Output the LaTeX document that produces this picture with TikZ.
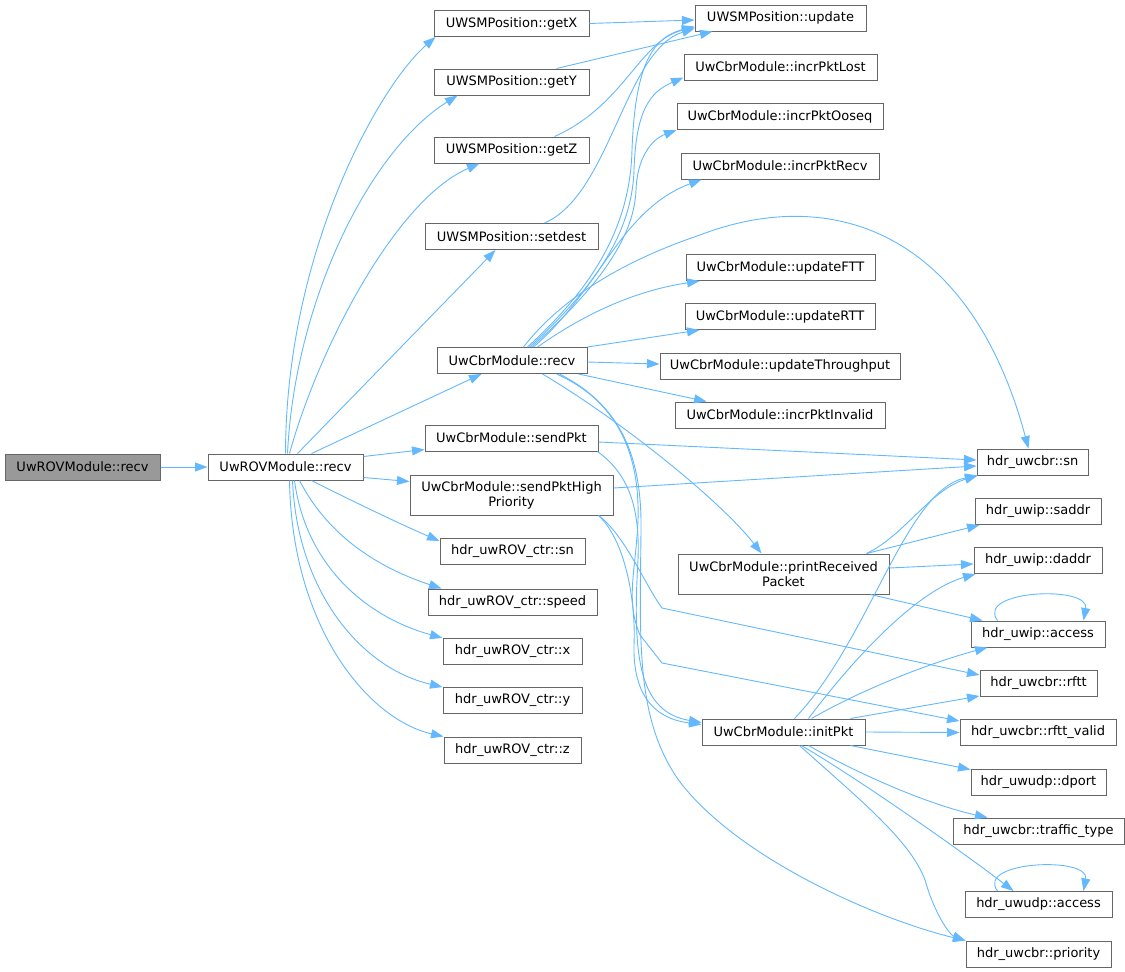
\documentclass[tikz,border=0pt]{standalone}
\usepackage{fontspec}
\setmainfont{DejaVu Sans}
\usepackage{tikz}
\usetikzlibrary{calc}
\usetikzlibrary{arrows.meta}

\definecolor{edgeblue}{HTML}{63B8FF}
\definecolor{boxgrey}{HTML}{666666}
\definecolor{rootgrey}{HTML}{999999}

\begin{document}
\begin{tikzpicture}[x=1pt, y=-1pt,
  fn/.style={draw=boxgrey, line width=1pt, fill=white, minimum height=26pt, inner xsep=2pt, inner ysep=0pt, font=\fontsize{13}{15}\selectfont},
  fntwo/.style={fn, minimum height=40pt, align=center},
  call/.style={edgeblue, line width=0.9pt, -{Triangle[length=12.5pt, width=9pt]}}]
\useasboundingbox (0,0) rectangle (1125,972);

% callers
\node[fn, fill=rootgrey, minimum width=155pt] (rootRecv) at (82.5,467) {UwROVModule::recv};
\node[fn, minimum width=155pt] (rovRecv) at (285.5,467) {UwROVModule::recv};

% first level
\node[fn, minimum width=155pt] (getX) at (511.5,23.5) {UWSMPosition::getX};
\node[fn, minimum width=155pt] (getY) at (511.5,82) {UWSMPosition::getY};
\node[fn, minimum width=155pt] (getZ) at (511.5,150) {UWSMPosition::getZ};
\node[fn, minimum width=173pt] (setDest) at (511.5,236.5) {UWSMPosition::setdest};
\node[fn, minimum width=150pt] (cbrRecv) at (512,360.5) {UwCbrModule::recv};
\node[fn, minimum width=173pt] (sendPkt) at (511.5,438) {UwCbrModule::sendPkt};
\node[fntwo, minimum width=203pt] (sendHigh) at (511.5,495) {UwCbrModule::sendPktHigh\\Priority};
\node[fn, minimum width=145pt] (rovSn) at (512.5,551.5) {hdr\_uwROV\_ctr::sn};
\node[fn, minimum width=169pt] (rovSpeed) at (512.5,602) {hdr\_uwROV\_ctr::speed};
\node[fn, minimum width=139pt] (rovX) at (512.5,651.5) {hdr\_uwROV\_ctr::x};
\node[fn, minimum width=139pt] (rovY) at (512.5,700.5) {hdr\_uwROV\_ctr::y};
\node[fn, minimum width=137pt] (rovZ) at (512.5,750) {hdr\_uwROV\_ctr::z};

% second level
\node[fn, minimum width=171pt] (update) at (780.5,18) {UWSMPosition::update};
\node[fn, minimum width=193pt] (incrLost) at (780.5,67) {UwCbrModule::incrPktLost};
\node[fn, minimum width=206pt] (incrOoseq) at (780,116.5) {UwCbrModule::incrPktOoseq};
\node[fn, minimum width=198pt] (incrRecv) at (780,166) {UwCbrModule::incrPktRecv};
\node[fn, minimum width=189pt] (updFTT) at (780.5,267.5) {UwCbrModule::updateFTT};
\node[fn, minimum width=190pt] (updRTT) at (780,316.5) {UwCbrModule::updateRTT};
\node[fn, minimum width=240pt] (updThr) at (780,366) {UwCbrModule::updateThroughput};
\node[fn, minimum width=210pt] (incrInv) at (780,415) {UwCbrModule::incrPktInvalid};
\node[fntwo, minimum width=211pt] (printRecv) at (783.5,574) {UwCbrModule::printReceived\\Packet};
\node[fn, minimum width=163pt] (initPkt) at (783.5,732) {UwCbrModule::initPkt};

% headers
\node[fn, minimum width=111pt] (cbrSn) at (1032.5,462) {hdr\_uwcbr::sn};
\node[fn, minimum width=126pt] (saddr) at (1038,511.5) {hdr\_uwip::saddr};
\node[fn, minimum width=128pt] (daddr) at (1038,560.5) {hdr\_uwip::daddr};
\node[fn, minimum width=134pt] (ipAccess) at (1038,634) {hdr\_uwip::access};
\node[fn, minimum width=117pt] (rftt) at (1038.5,683.5) {hdr\_uwcbr::rftt};
\node[fn, minimum width=156pt] (rfttValid) at (1038,732.5) {hdr\_uwcbr::rftt\_valid};
\node[fn, minimum width=135pt] (dport) at (1038.5,782) {hdr\_uwudp::dport};
\node[fn, minimum width=171pt] (traffic) at (1038.5,831) {hdr\_uwcbr::traffic\_type};
\node[fn, minimum width=147pt] (udpAccess) at (1038.5,904.5) {hdr\_uwudp::access};
\node[fn, minimum width=145pt] (priority) at (1038.5,954) {hdr\_uwcbr::priority};

% UwROVModule::recv
\draw[call] (rootRecv) -- (rovRecv);
\draw[call] ([xshift=78pt]rovRecv.north west) .. controls (286,250) and (380,85) .. ([xshift=2pt]getX.south west);
\draw[call] ([xshift=80pt]rovRecv.north west) .. controls (295,300) and (370,150) .. ([xshift=24pt]getY.south west);
\draw[call] ([xshift=82pt]rovRecv.north west) .. controls (318,350) and (395,200) .. ([xshift=46pt]getZ.south west);
\draw[call] ([xshift=90pt]rovRecv.north west) -- ([xshift=71pt]setDest.south west);
\draw[call] ([xshift=104pt]rovRecv.north west) -- ([xshift=45pt]cbrRecv.south west);
\draw[call] ([yshift=-3pt]rovRecv.north east) -- ([yshift=2pt]sendPkt.south west);
\draw[call] ([yshift=3pt]rovRecv.south east) -- ([yshift=-7pt]sendHigh.north west);
\draw[call] ([xshift=104pt]rovRecv.south west) .. controls (350,500) and (400,524) .. ([yshift=-3pt]rovSn.north west);
\draw[call] ([xshift=92pt]rovRecv.south west) .. controls (325,530) and (370,565) .. ([xshift=14pt]rovSpeed.north west);
\draw[call] ([xshift=87pt]rovRecv.south west) .. controls (305,560) and (360,615) .. (rovX.north west);
\draw[call] ([xshift=85pt]rovRecv.south west) .. controls (297,590) and (360,668) .. (rovY.north west);
\draw[call] ([xshift=82pt]rovRecv.south west) .. controls (292,630) and (370,720) .. (rovZ.north west);

% UWSMPosition
\draw[call] (getX.east) -- ([yshift=-2pt]update.west);
\draw[call] ([xshift=123pt]getY.north west) -- ([xshift=18pt]update.south west);
\draw[call] ([xshift=121pt]getZ.north west) .. controls (625,105) and (640,40) .. ([yshift=4pt]update.south west);
\draw[call] ([xshift=120pt]setDest.north west) .. controls (610,195) and (625,50) .. ([yshift=3pt]update.south west);

% UwCbrModule::recv
\draw[call] ([xshift=91pt]cbrRecv.north west) .. controls (590,290) and (630,230) .. (632,150) .. controls (635,70) and (650,38) .. ([yshift=5pt]update.south west);
\draw[call] ([xshift=93pt]cbrRecv.north west) .. controls (592,290) and (632,235) .. (634,170) .. controls (636,110) and (650,92) .. ([yshift=3pt]incrLost.south west);
\draw[call] ([xshift=95pt]cbrRecv.north west) .. controls (595,290) and (634,240) .. (636,190) .. controls (637,160) and (650,140) .. (incrOoseq.south west);
\draw[call] ([xshift=97pt]cbrRecv.north west) .. controls (600,290) and (620,210) .. ([xshift=21pt]incrRecv.south west);
\draw[call] ([xshift=87pt]cbrRecv.north west) .. controls (560,300) and (620,262) .. (700,235) .. controls (830,185) and (970,230) .. ([xshift=-4pt]cbrSn.north);
\draw[call] ([xshift=101pt]cbrRecv.north west) .. controls (590,310) and (640,290) .. ([xshift=14pt]updFTT.south west);
\draw[call] (cbrRecv.north east) -- ([xshift=15pt]updRTT.south west);
\draw[call] ([yshift=-1.5pt]cbrRecv.east) -- ([yshift=2pt]updThr.west);
\draw[call] ([xshift=-9pt]cbrRecv.south east) -- ([xshift=32pt]incrInv.north west);
\draw[call] ([xshift=106pt]cbrRecv.south west) .. controls (620,420) and (720,500) .. ([xshift=84pt]printRecv.north west);
\draw[call] ([xshift=120pt]cbrRecv.south west) .. controls (615,400) and (640,450) .. (638,520) .. controls (636,570) and (625,600) .. (640,635) -- (662,663) -- ([yshift=-2pt]rfttValid.north west);
\draw[call] ([xshift=123pt]cbrRecv.south west) .. controls (620,405) and (642,455) .. (641,530) .. controls (640,640) and (635,720) .. (680,782) .. controls (740,860) and (880,920) .. (priority.north west);

% sendPkt and sendPktHighPriority
\draw[call] ([yshift=-4pt]sendPkt.east) -- ([yshift=2pt]cbrSn.west);
\draw[call] ([xshift=-1pt]sendPkt.south east) .. controls (630,475) and (640,510) .. (638,560) .. controls (632,660) and (640,712) .. ([yshift=-4pt]initPkt.north west);
\draw[call] ([yshift=7pt]sendHigh.east) -- ([yshift=-4pt]cbrSn.west);
\draw[call] ([xshift=-15pt]sendHigh.south east) .. controls (625,535) and (645,585) .. (662,608) -- ([yshift=-5pt]rftt.north west);
\draw[call] ([xshift=-15pt]sendHigh.south east) .. controls (625,540) and (636,600) .. (634,645) .. controls (633,690) and (650,718) .. ([yshift=-6pt]initPkt.north west);

% printReceivedPacket
\draw[call] ([xshift=-23pt]printRecv.north east) .. controls (905,535) and (930,490) .. ([xshift=1pt]cbrSn.south west);
\draw[call] ([xshift=-23pt]printRecv.north east) -- ([xshift=5pt]saddr.south west);
\draw[call] ([yshift=6pt]printRecv.east) -- ([yshift=-3.5pt]daddr.west);
\draw[call] ([xshift=-19pt]printRecv.south east) -- ([xshift=12pt]ipAccess.north west);

% initPkt
\draw[call] ([xshift=93pt]initPkt.north west) .. controls (870,640) and (905,490) .. ([xshift=1pt]cbrSn.south west);
\draw[call] ([xshift=107pt]initPkt.north west) .. controls (860,650) and (920,590) .. ([xshift=2pt]daddr.south west);
\draw[call] ([xshift=110pt]initPkt.north west) .. controls (870,685) and (940,660) .. ([xshift=17pt]ipAccess.south west);
\draw[call] ([xshift=149pt]initPkt.north west) -- ([yshift=1pt]rftt.south west);
\draw[call] (initPkt.east) -- (rfttValid.west);
\draw[call] ([xshift=149pt]initPkt.south west) -- ([yshift=-1pt]dport.north west);
\draw[call] ([xshift=107pt]initPkt.south west) .. controls (860,775) and (930,805) .. ([xshift=35pt]traffic.north west);
\draw[call] ([xshift=100pt]initPkt.south west) .. controls (860,780) and (960,850) .. ([xshift=49pt]udpAccess.north west);
\draw[call] ([xshift=98pt]initPkt.south west) .. controls (860,800) and (910,840) .. (925,880) .. controls (935,915) and (950,935) .. (priority.north west);

% self calls
\draw[call] ([xshift=27pt]ipAccess.north west) .. controls (975,590) and (1090,585) .. ([xshift=113pt]ipAccess.north west);
\draw[call] ([xshift=33pt]udpAccess.north west) .. controls (975,861) and (1090,856) .. ([xshift=119pt]udpAccess.north west);

\end{tikzpicture}
\end{document}
